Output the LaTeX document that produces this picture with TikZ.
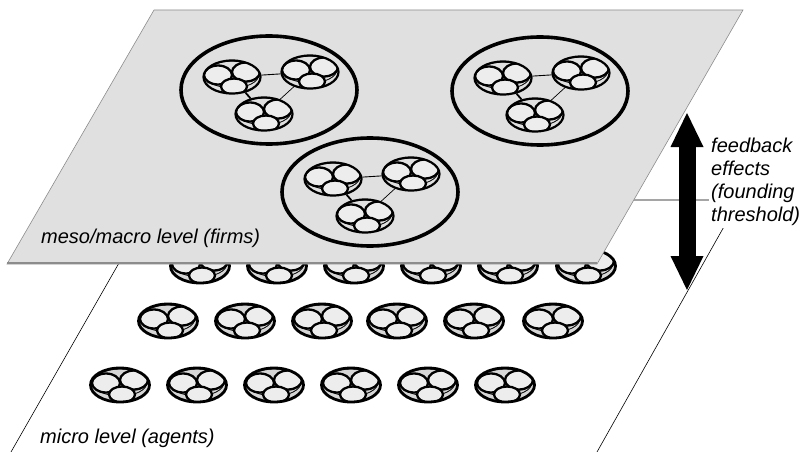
\documentclass[tikz,border=0pt]{standalone}
\usepackage{fontspec}
\setmainfont{Liberation Sans}
\usetikzlibrary{shapes.geometric,arrows.meta}
\tikzset{
  innerdots/.style={path picture={
    \draw[line width=0.8pt] ([yshift=2.5pt]path picture bounding box.center) ellipse [x radius=27pt, y radius=13.5pt];
    \draw[line width=2.3pt, fill=black!7] ([shift={(-14pt,2pt)}]path picture bounding box.center) ellipse [x radius=14pt, y radius=9.5pt];
    \draw[line width=2.3pt, fill=black!7] ([shift={(14pt,5pt)}]path picture bounding box.center) ellipse [x radius=14pt, y radius=9.5pt];
    \draw[line width=2.3pt, fill=black!7] ([shift={(2pt,-9.5pt)}]path picture bounding box.center) ellipse [x radius=13pt, y radius=8pt];
  }},
  agent/.style={ellipse, draw, line width=2.8pt, fill=black!16, minimum width=59pt, minimum height=34pt, inner sep=0pt, innerdots},
  cluster/.style={ellipse, draw, line width=2.2pt, fill=black!12, minimum width=57pt, minimum height=33pt, inner sep=0pt, innerdots},
  firm/.style={ellipse, draw, line width=3.6pt, minimum width=176pt, minimum height=108pt, inner sep=0pt},
  lbl/.style={font=\itshape\fontsize{20}{23}\selectfont, inner sep=0pt},
  planeedge/.style={line width=0.6pt},
}
\begin{document}
\begin{tikzpicture}[x=1pt,y=-1pt]
\useasboundingbox (0,0) rectangle (804,452);
% lower (micro) plane
\coordinate (lbl) at (11,452);
\coordinate (ltl) at (155,200);
\coordinate (ltr) at (739,200);
\coordinate (lbr) at (597,452);
\draw[planeedge] (lbl) -- (ltl) -- (ltr) -- (lbr);
% agents
\foreach \x [count=\i] in {200,277,354,431,508,586}
  \node[agent] (r1-\i) at (\x,266) {};
\foreach \x [count=\i] in {168,245,322,397,474,553}
  \node[agent] (r2-\i) at (\x,321) {};
\foreach \x [count=\i] in {120,197,274,351,428,505}
  \node[agent] (r3-\i) at (\x,385) {};
% upper (meso/macro) plane
\coordinate (utl) at (154,10);
\coordinate (utr) at (743,10);
\coordinate (ubr) at (597,264);
\coordinate (ubl) at (7,264);
\path[draw=black!45, line width=0.6pt, fill=black!12] (utl) -- (utr) -- (ubr) -- (ubl) -- cycle;
\draw[black!45, line width=2.2pt] ([yshift=1pt]ubl) -- ([yshift=1pt]ubr);
% firms
\foreach \n/\cx/\cy in {1/269/90, 2/540/91, 3/370/192} {
  \node[firm] (f\n) at (\cx,\cy) {};
  \node[cluster] (f\n a) at (\cx-37,\cy-13) {};
  \node[cluster] (f\n b) at (\cx+41,\cy-18) {};
  \node[cluster] (f\n c) at (\cx-5,\cy+24) {};
  \draw[line width=0.9pt] (f\n a) -- (f\n b);
  \draw[line width=1.8pt] (f\n a) -- (f\n c);
  \draw[line width=0.7pt] (f\n b) -- (f\n c);
}
% labels
\node[lbl, anchor=base west] (meso) at (41,243) {meso/macro level (firms)};
\node[lbl, anchor=base west] (micro) at (40,443) {micro level (agents)};
\node[lbl, anchor=north west, align=left, fill=white, inner sep=2pt] (fb) at (709,136) {feedback\\effects\\(founding\\threshold)};
% feedback arrow
\coordinate (fbtop) at (687,113);
\coordinate (fbbot) at (687,290);
\draw[line width=17pt, {Triangle[length=34pt,width=33pt,line width=0pt]}-{Triangle[length=34pt,width=33pt,line width=0pt]}] (fbtop) -- (fbbot);
\end{tikzpicture}
\end{document}
